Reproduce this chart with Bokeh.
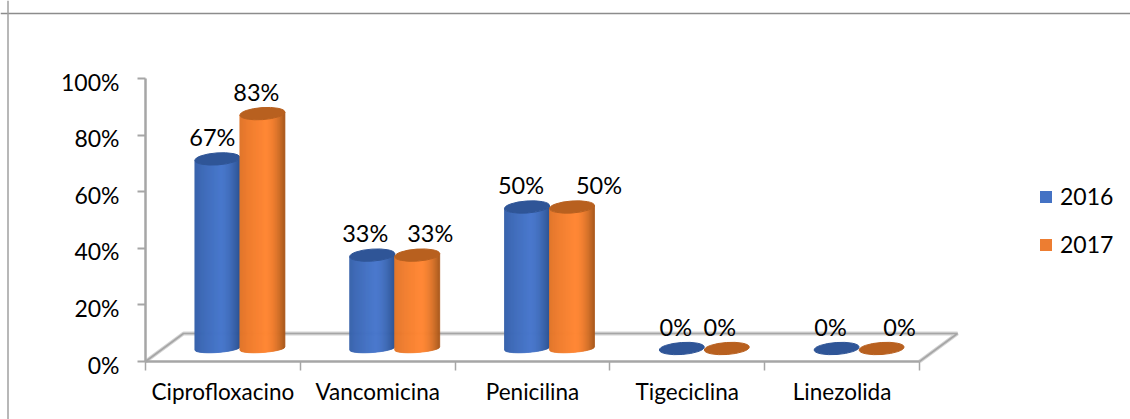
import math

from bokeh.core.properties import value
from bokeh.embed import file_html
from bokeh.models import (ColumnDataSource, FixedTicker, Legend, LegendItem,
                          LinearAxis, Range1d, Span)
from bokeh.plotting import figure
from bokeh.resources import INLINE

categories = ["Ciprofloxacino", "Vancomicina", "Penicilina", "Tigeciclina", "Linezolida"]
series_2016 = [67, 33, 50, 0, 0]
series_2017 = [83, 33, 50, 0, 0]
y_ticks = [0, 20, 40, 60, 80, 100]

# Layout of the pseudo 3D scene, in pixels
WIDTH, HEIGHT = 1130, 419
X0_PX, Y0_PX = 145, 361
CAT_PX, PCT_PX = 154.8, 2.83
DEPTH_X, DEPTH_Y = 38, 28
BASE_LIFT = 13
CYL_W, CYL_H, FOOT_H = 45, 12, 8
TILT = 4.0
BAR_SHIFT = {"2016": -5.5, "2017": 39.5}
LABEL_DX = {"2016": [-5, -7, -6, -6, -6], "2017": [-6, 13, 27, -7, 18]}
LABEL_DY = 35
TICK_LABEL_DROP = 3
FONT = "Lato"
GRAY = "#a6a6a6"
SHADOW = "#d4d4d4"

BLUE = {"edge_l": "#3660a8", "mid": "#4776cb", "edge_r": "#2c5291", "top": "#2f5597", "flat": "#4472c4"}
ORANGE = {"edge_l": "#de7329", "mid": "#ff8633", "edge_r": "#a9591c", "top": "#b8601f", "flat": "#ed7d31"}

p = figure(width=WIDTH, height=HEIGHT, output_backend="svg", toolbar_location=None,
           min_border=0, outline_line_color=None, background_fill_color="white",
           x_range=Range1d(-X0_PX / CAT_PX, (WIDTH - X0_PX) / CAT_PX),
           y_range=Range1d((Y0_PX - HEIGHT) / PCT_PX, Y0_PX / PCT_PX),
           x_axis_type=None, y_axis_type=None)
p.grid.visible = False

# Tick labels sit slightly under their ticks, so they get a range of their own
p.extra_y_ranges["labels"] = Range1d((Y0_PX - HEIGHT + TICK_LABEL_DROP) / PCT_PX,
                                     (Y0_PX + TICK_LABEL_DROP) / PCT_PX)


def dx(px):
    return px / CAT_PX


def dy(px):
    return px / PCT_PX


def mix(a, b, t):
    ca = [int(a[i:i + 2], 16) for i in (1, 3, 5)]
    cb = [int(b[i:i + 2], 16) for i in (1, 3, 5)]
    return "#%02x%02x%02x" % tuple(round(x + (y - x) * t) for x, y in zip(ca, cb))


def shade(pal, u):
    # Lit just right of the centre line, falling away towards both edges
    peak = 0.15
    if u < peak:
        return mix(pal["edge_l"], pal["mid"], ((u + 1) / (peak + 1)) ** 0.7)
    return mix(pal["mid"], pal["edge_r"], ((u - peak) / (1 - peak)) ** 1.8)


def arc(u, h):
    return -h / 2 * math.sqrt(max(0.0, 1 - u * u)) + math.tan(math.radians(TILT)) * u * CYL_W / 2


def draw_cylinders(values, key, pal):
    xs, ys, colors = [], [], []
    strips = 45
    for i, v in enumerate(values):
        cx = i + 0.5 + dx(BAR_SHIFT[key])
        base = dy(BASE_LIFT)
        if v > 0:
            for k in range(strips):
                u0, u1 = -1 + 2 * k / strips, -1 + 2 * (k + 1) / strips
                x0, x1 = cx + dx(u0 * CYL_W / 2), cx + dx(u1 * CYL_W / 2)
                top = base + v
                xs.append([x0, x1, x1, x0])
                ys.append([top + dy(arc(u0, CYL_H)), top + dy(arc(u1, CYL_H)),
                           base + dy(arc(u1, FOOT_H)), base + dy(arc(u0, FOOT_H))])
                colors.append(shade(pal, (u0 + u1) / 2))
    p.patches(xs, ys, fill_color=colors, line_color=colors, line_width=0.8)
    caps = ColumnDataSource(dict(x=[i + 0.5 + dx(BAR_SHIFT[key]) for i in range(len(values))],
                                 y=[v + dy(BASE_LIFT) for v in values]))
    p.ellipse("x", "y", width=CYL_W, height=CYL_H, width_units="screen", height_units="screen",
              angle=math.radians(TILT), fill_color=pal["top"], line_color=pal["top"], source=caps)


def draw_labels(values, key):
    src = ColumnDataSource(dict(x=[i + 0.5 + dx(BAR_SHIFT[key]) for i in range(len(values))],
                                y=values, t=[f"{v}%" for v in values], off=LABEL_DX[key]))
    p.text("x", "y", text="t", x_offset="off", y_offset=-LABEL_DY, source=src,
           text_font=value(FONT), text_font_size="23.5px", text_color="#000000",
           text_align="center", text_baseline="middle")


# Chart frame: only the top and left edges fall inside the page
p.add_layout(Span(dimension="width", location=HEIGHT - 13, location_units="screen",
                  line_color="#8c8c8c", line_width=1.5))
p.add_layout(Span(dimension="height", location=7.5, location_units="screen",
                  line_color="#a0a0a0", line_width=1.5))

# Floor of the scene
n = len(categories)
floor_x = [0, dx(DEPTH_X), n + dx(DEPTH_X), n]
floor_y = [0, dy(DEPTH_Y), dy(DEPTH_Y), 0]
for color, w in ((SHADOW, 4), (GRAY, 1.6)):
    p.line(floor_x, floor_y, line_color=color, line_width=w)

# Axes sit at the data origin and take no layout space
y_axis = LinearAxis(fixed_location=0, bounds=(0, 100), ticker=FixedTicker(ticks=y_ticks),
                    axis_line_color=GRAY, axis_line_width=2.5,
                    major_tick_line_color=GRAY, major_tick_line_width=2,
                    major_tick_in=0, major_tick_out=8, minor_tick_line_color=None,
                    major_label_text_color=None, major_label_text_font_size="23px",
                    major_label_text_font=FONT, major_label_standoff=18)
y_axis.major_label_overrides = {t: "\u00a0" for t in y_ticks}
y_labels = LinearAxis(fixed_location=0, y_range_name="labels", ticker=FixedTicker(ticks=y_ticks),
                      major_label_overrides={t: f"{t}%" for t in y_ticks},
                      axis_line_color=None, major_tick_line_color=None,
                      minor_tick_line_color=None, major_tick_in=0, major_tick_out=8,
                      major_label_text_font=FONT, major_label_text_font_size="23px",
                      major_label_text_color="#000000", major_label_standoff=18)
p.add_layout(y_labels, "left")
p.add_layout(y_axis, "left")

# Boundary ticks between categories are the minor ticks of the name axis
x_axis = LinearAxis(fixed_location=0, bounds=(0, n),
                    ticker=FixedTicker(ticks=[i + 0.5 for i in range(n)],
                                       minor_ticks=list(range(n + 1))),
                    major_label_overrides={i + 0.5: c for i, c in enumerate(categories)},
                    axis_line_color=GRAY, axis_line_width=2.5,
                    major_tick_line_color=None, major_tick_in=0, major_tick_out=0,
                    minor_tick_line_color=GRAY, minor_tick_line_width=1.5,
                    minor_tick_in=0, minor_tick_out=9,
                    major_label_standoff=7, major_label_text_font=FONT,
                    major_label_text_font_size="22.5px", major_label_text_color="#000000")
p.add_layout(x_axis, "below")

draw_cylinders(series_2016, "2016", BLUE)
draw_cylinders(series_2017, "2017", ORANGE)
draw_labels(series_2016, "2016")
draw_labels(series_2017, "2017")

# Legend swatches use the flat series colours
swatch_a = p.vbar(x=[0], top=[0], bottom=[0], width=0, fill_color=BLUE["flat"], line_color=None)
swatch_b = p.vbar(x=[0], top=[0], bottom=[0], width=0, fill_color=ORANGE["flat"], line_color=None)
legend = Legend(items=[LegendItem(label="2016", renderers=[swatch_a]),
                       LegendItem(label="2017", renderers=[swatch_b])],
                location=(1038, 161), orientation="vertical", border_line_color=None,
                background_fill_alpha=0, padding=0, margin=0, spacing=20,
                glyph_width=15, glyph_height=15, label_standoff=7,
                label_text_font=FONT, label_text_font_size="23px", label_text_color="#000000")
p.add_layout(legend)

open("out.html", "w").write(file_html(p, INLINE))
